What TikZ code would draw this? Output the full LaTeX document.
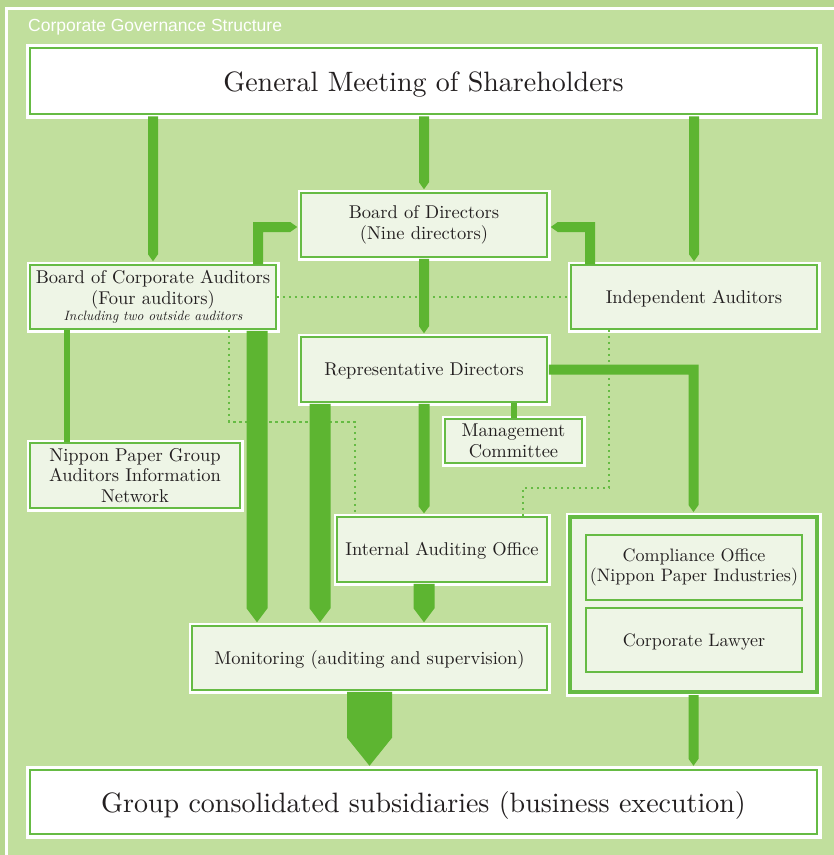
\documentclass[tikz,border=0pt]{standalone}
\usepackage{fontspec}
\setmainfont{lmroman10-regular.otf}[ItalicFont=lmroman10-italic.otf]
\newfontfamily\titlefont{Liberation Sans}
\usetikzlibrary{calc}
\definecolor{outerbg}{HTML}{B6D68F}
\definecolor{panel}{HTML}{C1DF9D}
\definecolor{bargreen}{HTML}{5DB531}
\definecolor{bordergreen}{HTML}{66BB44}
\definecolor{boxfill}{HTML}{EEF5E6}
\definecolor{textcol}{HTML}{231F20}
% vertical bar arrow: #1 point giving x, #2 point giving start y, #3 tip point, #4 half width, #5 tip length
\newcommand\downbar[5]{\fill[bar] let \p1=#1, \p2=#2, \p3=#3 in
  (\x1-#4,\y2) -- (\x1+#4,\y2) -- (\x1+#4,\y3+#5) -- (\x1,\y3) -- (\x1-#4,\y3+#5) -- cycle;}
\begin{document}
\begin{tikzpicture}[x=1pt,y=-1pt,
  bar/.style={fill=bargreen},
  barline/.style={draw=bargreen, line width=6pt},
  dots/.style={draw=bordergreen, line width=2.5pt, dash pattern=on 2.5pt off 3.5pt},
  box/.style={draw=bordergreen, line width=1.5pt, fill=boxfill, inner sep=0pt,
    align=center, text=textcol, font=\fontsize{18.5}{20.5}\selectfont,
    preaction={draw=white, line width=7pt}},
  oneline/.style={text height=12.6pt, text depth=0pt},
  bigbox/.style={box, fill=white, line width=2.5pt, font=\fontsize{28}{32}\selectfont,
    text height=20pt, text depth=0pt,
    preaction={draw=white, line width=9pt}},
  groupbox/.style={box, line width=4pt, preaction={draw=white, line width=9pt}},
  innerbox/.style={draw=bordergreen, line width=1.5pt, fill=boxfill, inner sep=0pt,
    align=center, text=textcol, font=\fontsize{18}{20.5}\selectfont}
]
\useasboundingbox (0,0) rectangle (834,855);
% background
\fill[outerbg] (0,0) rectangle (834,855);
\fill[panel] (7.5,8.5) rectangle (834,855);
\draw[white, line width=2.5pt] (6.5,855) -- (6.5,8.5) -- (834,8.5);
\node[anchor=base west, text=white, inner sep=0pt, font=\titlefont\fontsize{17.5}{20}\selectfont] (title) at (28,31.7) {Corporate Governance Structure};

% nodes
\node[bigbox, minimum width=787pt, minimum height=66pt] (gm) at (423.5,81) {General Meeting of Shareholders};
\node[bigbox, minimum width=787pt, minimum height=64pt] (grp) at (423.5,802) {Group consolidated subsidiaries (business execution)};
\node[box, minimum width=246pt, minimum height=64pt] (bod) at (424,225) {Board of Directors\\(Nine directors)};
\node[box, minimum width=246pt, minimum height=64pt] (bca) at (153,297) {Board of Corporate Auditors\\(Four auditors)\\[-4pt]{\fontsize{13.5}{16}\selectfont\itshape Including two outside auditors}};
\node[box, oneline, minimum width=246pt, minimum height=64pt] (ia) at (694,297) {Independent Auditors};
\node[box, oneline, minimum width=246pt, minimum height=65pt] (rd) at (424,369.5) {Representative Directors};
\node[box, minimum width=137pt, minimum height=44pt] (mc) at (513.5,441) {Management\\Committee};
\node[box, oneline, minimum width=210pt, minimum height=65pt] (iao) at (442,549.5) {Internal Auditing Office};
\node[box, minimum width=210pt, minimum height=65pt] (npg) at (135,475.5) {Nippon Paper Group\\Auditors Information\\Network};
\node[box, oneline, minimum width=355pt, minimum height=64pt] (mon) at (369.5,658) {Monitoring (auditing and supervision)};
\node[groupbox, minimum width=247pt, minimum height=175pt] (comp) at (693.5,604.5) {};
\node[innerbox, minimum width=216pt, minimum height=65pt] (co) at (694,567.5) {Compliance Office\\(Nippon Paper Industries)};
\node[innerbox, oneline, minimum width=216pt, minimum height=64pt] (cl) at (694,640) {Corporate Lawyer};

% dotted links
\draw[dots] (bca.east) -- (ia.west);
\draw[dots] ([xshift=76pt]bca.south) -- ([xshift=76pt,yshift=-92pt]bca.south) -| ([xshift=-87pt]iao.north);
\draw[dots] ([xshift=-85pt]ia.south) -- ([xshift=-85pt,yshift=-158pt]ia.south) -| ([xshift=81pt]iao.north);

% plain connectors
\draw[barline] (mc.north |- rd.south) -- (mc.north);
\draw[barline] ([xshift=-86pt]bca.south) -- ([xshift=-86pt]bca.south |- npg.north);

% bar arrows
\downbar{(bca.north)}{([yshift=-1pt]gm.south)}{([yshift=3pt]bca.north)}{5pt}{7pt}
\downbar{(bod.north)}{([yshift=-1pt]gm.south)}{([yshift=3pt]bod.north)}{5pt}{7pt}
\downbar{(ia.north)}{([yshift=-1pt]gm.south)}{([yshift=3pt]ia.north)}{5pt}{7pt}
\downbar{(bod.south)}{([yshift=-1pt]bod.south)}{([yshift=3pt]rd.north)}{5pt}{7pt}
\downbar{([xshift=104pt]bca.south)}{([yshift=-1pt]bca.south)}{([xshift=104pt,yshift=3pt]bca.south |- mon.north)}{10.5pt}{14pt}
\downbar{([xshift=-104pt]rd.south)}{([yshift=-1pt]rd.south)}{([xshift=-104pt,yshift=3pt]rd.south |- mon.north)}{10.5pt}{14pt}
\downbar{(rd.south)}{([yshift=-1pt]rd.south)}{([yshift=3pt]rd.south |- iao.north)}{5.5pt}{7pt}
\downbar{(rd.south)}{([yshift=-1pt]iao.south)}{([yshift=3pt]rd.south |- mon.north)}{10.5pt}{14pt}
\downbar{(mon.south)}{([yshift=-1pt]mon.south)}{([yshift=3pt]mon.south |- grp.north)}{22.5pt}{28pt}
\downbar{(comp.south)}{([yshift=-1pt]comp.south)}{([yshift=3pt]comp.south |- grp.north)}{5pt}{7pt}

% elbow: auditors -> board of directors
\fill[bar] let \p1=([xshift=105pt]bca.north), \p2=([xshift=-3pt,yshift=-2pt]bod.west) in
  (\x1-5pt,\y1) -- (\x1-5pt,\y2+5pt) -- (\x2-7pt,\y2+5pt) -- (\x2,\y2) -- (\x2-7pt,\y2-5pt) -- (\x1+5pt,\y2-5pt) -- (\x1+5pt,\y1) -- cycle;
% elbow: independent auditors -> board of directors
\fill[bar] let \p1=([xshift=-104pt]ia.north), \p2=([xshift=3pt,yshift=-2pt]bod.east) in
  (\x1+5pt,\y1) -- (\x1+5pt,\y2+5pt) -- (\x2+7pt,\y2+5pt) -- (\x2,\y2) -- (\x2+7pt,\y2-5pt) -- (\x1-5pt,\y2-5pt) -- (\x1-5pt,\y1) -- cycle;
% elbow: representative directors -> compliance
\fill[bar] let \p1=([xshift=1pt]rd.east), \p2=([yshift=3pt]comp.north) in
  (\x1,\y1+5pt) -- (\x2+5pt,\y1+5pt) -- (\x2+5pt,\y2+7pt) -- (\x2,\y2) -- (\x2-5pt,\y2+7pt) -- (\x2-5pt,\y1-5pt) -- (\x1,\y1-5pt) -- cycle;
\end{tikzpicture}
\end{document}
